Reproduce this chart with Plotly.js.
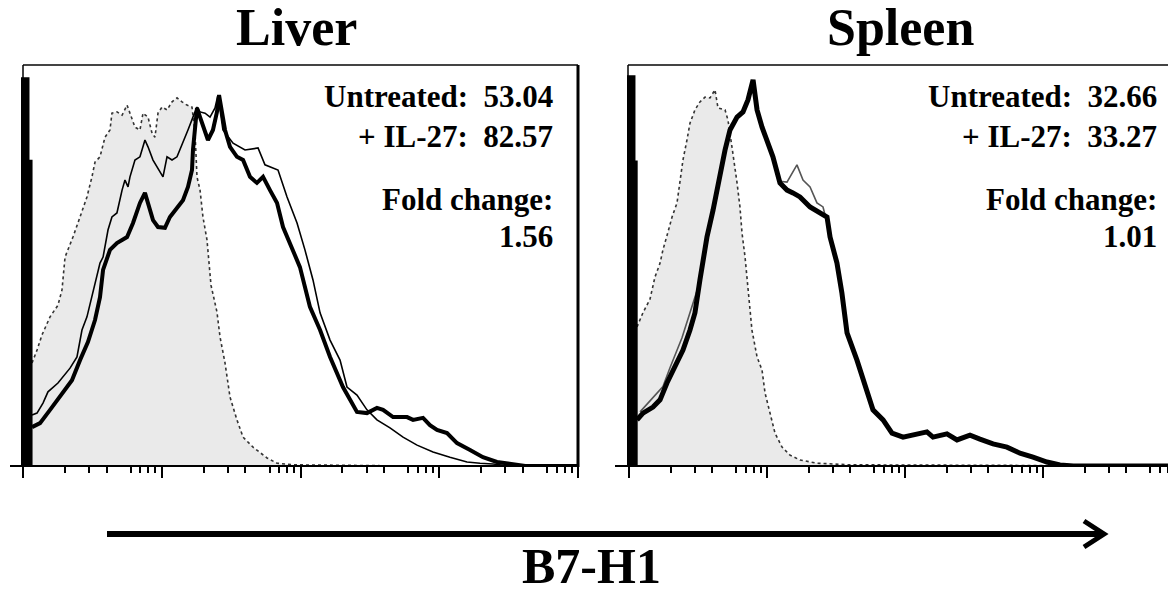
<!DOCTYPE html>
<html>
<head>
<meta charset="utf-8">
<script src="https://cdn.plot.ly/plotly-3.0.1.min.js"></script>
<style>html,body{margin:0;padding:0;background:#fff;}#chart{width:1168px;height:590px;}</style>
</head>
<body>
<div id="chart"></div>
<script>
// ---- DATA (x = log10 fluorescence, y = % of max) ----
const panelTitles = ["Liver", "Spleen"];
const axisLabel = "B7-H1";
const statsLiver = ["Untreated:\u00a0 53.04", "+ IL-27:\u00a0 82.57", "Fold change:", "1.56"];
const statsSpleen = ["Untreated:\u00a0 32.66", "+ IL-27:\u00a0 33.27", "Fold change:", "1.01"];

// first-channel pile-up (step outline)
const liverSpikeD = [-0.02, 0.036, 0.036, 0.058, 0.058];
const liverSpikeY = [96.6, 96.6, 76.0, 76.0, 0];
const spleenSpikeD = [-0.02, 0.036, 0.036, 0.052, 0.052];
const spleenSpikeY = [97.1, 97.1, 75.8, 75.8, 0];

// Liver isotype (gray filled, dotted)
const liverIsoD = [0.065,0.101,0.137,0.195,0.252,0.281,0.303,0.324,0.360,0.411,0.461,0.497,0.519,0.555,0.591,0.627,0.641,0.677,0.714,0.750,0.771,0.807,0.843,0.865,0.901,0.930,0.951,0.973,1.002,1.038,1.074,1.110,1.146,1.182,1.218,1.240,1.254,1.276,1.297,1.326,1.355,1.398,1.420,1.456,1.492,1.542,1.586,1.658,1.759,1.831,1.946,2.2,2.5,2.8,4.0];
const liverIsoY = [25.7,28.9,32.7,37.2,40.1,43.9,52.1,53.9,57.1,62.1,67.1,72.1,75.8,77.1,82.0,83.8,88.0,88.3,87.5,90.0,88.0,84.5,83.8,88.0,87.0,83.0,82.0,88.0,89.5,88.8,90.8,91.8,90.8,90.0,89.5,83.0,72.1,68.8,62.1,56.4,45.1,38.4,32.2,25.7,17.2,11.5,7.2,4.7,2.0,0.7,0.3,0.2,0.2,0,0];
// Liver untreated (thin)
const liverUntD = [0.065,0.101,0.144,0.180,0.252,0.339,0.389,0.425,0.461,0.497,0.519,0.555,0.577,0.613,0.641,0.677,0.714,0.735,0.757,0.771,0.807,0.843,0.879,0.901,0.937,0.987,1.009,1.038,1.074,1.110,1.153,1.189,1.225,1.254,1.276,1.312,1.348,1.384,1.405,1.441,1.514,1.600,1.694,1.744,1.838,1.903,1.975,2.032,2.090,2.141,2.213,2.285,2.335,2.407,2.479,2.551,2.645,2.739,2.840,2.955,3.077,3.200,3.294,3.387,3.51,4.0];
const liverUntY = [12.7,13.2,15.7,18.5,20.7,24.4,27.2,33.9,37.2,42.1,45.1,50.6,52.1,58.9,62.1,63.1,68.8,71.3,69.6,72.1,76.3,77.1,81.3,79.6,76.3,73.3,72.1,77.1,76.3,77.1,80.5,83.8,87.0,89.5,88.3,88.0,87.0,89.3,92.5,83.8,80.5,78.8,79.3,75.1,73.8,67.1,60.6,53.9,46.4,38.2,31.4,26.4,19.7,17.7,14.0,11.5,9.5,7.2,5.2,3.5,2.2,1.0,0.7,0.5,0,0];
// Liver + IL-27 (thick)
const liverIl27D = [0.065,0.123,0.195,0.267,0.353,0.411,0.468,0.519,0.555,0.577,0.627,0.677,0.750,0.793,0.843,0.879,0.901,0.937,0.973,1.023,1.059,1.110,1.153,1.189,1.218,1.225,1.240,1.254,1.276,1.312,1.333,1.369,1.398,1.413,1.434,1.456,1.492,1.542,1.586,1.636,1.686,1.730,1.780,1.831,1.874,1.946,1.996,2.068,2.141,2.213,2.306,2.407,2.479,2.551,2.595,2.667,2.768,2.811,2.883,2.933,2.984,3.056,3.128,3.222,3.315,3.416,3.510,3.62,4.0];
const liverIl27Y = [9.7,10.7,14.0,17.2,21.4,26.4,30.9,36.4,42.1,48.9,53.9,55.6,57.1,60.6,65.6,68.1,65.6,61.3,59.6,59.4,62.1,64.6,66.3,69.6,73.8,78.8,84.5,89.3,87.0,83.0,81.3,83.8,88.3,92.5,88.0,83.8,79.6,77.1,76.3,72.1,70.6,72.1,68.8,65.6,59.6,53.9,49.6,39.7,33.9,27.2,19.7,13.5,13.2,14.5,14.0,12.2,12.2,11.5,12.0,10.2,9.0,8.2,5.7,4.0,2.2,1.0,0.5,0,0];

// Spleen isotype
const spleenIsoD = [0.058,0.101,0.152,0.188,0.225,0.246,0.283,0.312,0.348,0.370,0.391,0.420,0.442,0.478,0.514,0.551,0.587,0.623,0.645,0.696,0.717,0.746,0.768,0.783,0.804,0.819,0.841,0.862,0.891,0.928,0.964,0.986,1.022,1.058,1.109,1.167,1.239,1.362,1.601,2.2,2.98,3.1,3.906];
const spleenIsoY = [34.7,38.2,41.6,47.1,50.6,53.9,58.4,62.1,65.6,70.6,76.3,81.3,85.5,88.8,90.8,92.0,91.8,93.8,89.3,88.8,86.3,79.6,74.6,70.6,64.6,58.1,52.1,44.4,33.9,27.2,23.9,18.2,13.2,8.2,4.7,2.7,1.5,0.7,0.3,0.2,0.2,0,0];
// Spleen untreated (thin, gray)
const spleenUntD = [0.080,0.174,0.246,0.297,0.384,0.514,0.565,0.609,0.645,0.696,0.732,0.783,0.826,0.862,0.899,0.928,0.964,1.000,1.043,1.094,1.145,1.217,1.261,1.312,1.362,1.406,1.457,1.507,1.543,1.580,1.652,1.725,1.768,1.841,1.906,1.986,2.058,2.159,2.203,2.304,2.377,2.471,2.543,2.638,2.739,2.833,2.928,3.029,3.123,3.22,3.906];
const spleenUntY = [13.5,17.0,19.8,24.5,32.0,46.0,57.0,63.6,70.4,78.6,83.6,86.9,88.3,90.8,95.5,88.5,84.4,81.3,77.4,71.0,70.8,75.1,71.3,69.6,65.6,64.6,58.0,51.0,43.5,33.6,26.7,19.3,14.3,11.8,8.5,7.4,7.9,8.6,7.4,8.1,6.6,7.9,6.9,5.6,4.7,3.4,2.4,1.1,0.4,0,0];
// Spleen + IL-27 (thick)
const spleenIl27D = [0.058,0.101,0.174,0.225,0.275,0.333,0.391,0.442,0.478,0.514,0.565,0.609,0.645,0.696,0.732,0.783,0.826,0.862,0.899,0.928,0.964,1.000,1.043,1.094,1.145,1.188,1.239,1.312,1.384,1.435,1.457,1.507,1.543,1.580,1.652,1.725,1.768,1.841,1.906,1.986,2.058,2.159,2.203,2.304,2.377,2.471,2.543,2.638,2.739,2.833,2.928,3.029,3.123,3.22,3.906];
const spleenIl27Y = [11.5,13.2,14.7,16.5,20.7,24.7,28.9,33.9,38.2,46.4,57.1,63.8,70.6,78.8,83.8,87.0,88.3,91.3,96.3,88.8,84.5,81.3,77.1,70.6,68.8,68.1,67.1,64.6,63.1,62.1,57.1,50.6,43.1,33.2,26.4,19.0,14.0,11.5,8.2,7.2,7.7,8.5,7.2,8.0,6.5,7.7,6.7,5.5,4.7,3.2,2.2,1.0,0.25,0,0];

const majorTicks = [1, 10, 100, 1000, 10000];
const minorTicks = [2,3,4,6,7,8,9,20,30,40,60,70,80,90,200,300,400,600,700,800,900,2000,3000,4000,6000,7000,8000,9000];
const midTicks = [5, 50, 500, 5000];

// ---- BUILD ----
const W = 1168, H = 590;
const toLin = a => a.map(v => Math.pow(10, v));
const SERIF = "Liberation Serif, 'Times New Roman', Times, serif";

function panel(xa, ya, spD, spY, isoD, isoY, untD, untY, ilD, ilY, untColor, untW, ilW) {
  return [
    {x: toLin(isoD), y: isoY, xaxis: xa, yaxis: ya, type: 'scatter', mode: 'lines',
     fill: 'tozeroy', fillcolor: 'rgb(234,234,234)',
     line: {color: '#333', width: 1.6, dash: 'dot'}, hoverinfo: 'skip'},
    {x: toLin(untD), y: untY, xaxis: xa, yaxis: ya, type: 'scatter', mode: 'lines',
     line: {color: untColor, width: untW}, hoverinfo: 'skip'},
    {x: toLin(ilD), y: ilY, xaxis: xa, yaxis: ya, type: 'scatter', mode: 'lines',
     line: {color: '#000', width: ilW}, hoverinfo: 'skip'},
    {x: toLin(spD), y: spY, xaxis: xa, yaxis: ya, type: 'scatter', mode: 'lines',
     fill: 'tozeroy', fillcolor: '#000', line: {color: '#000', width: 3}, hoverinfo: 'skip'}
  ];
}

const traces = [].concat(
  panel('x', 'y', liverSpikeD, liverSpikeY, liverIsoD, liverIsoY, liverUntD, liverUntY, liverIl27D, liverIl27Y, '#000', 1.6, 4),
  panel('x2', 'y2', spleenSpikeD, spleenSpikeY, spleenIsoD, spleenIsoY, spleenUntD, spleenUntY, spleenIl27D, spleenIl27Y, '#555', 1.6, 5)
);

const yDom = [1 - 466 / H, 1 - 65 / H];
function xAxis(dom, range, anchor) {
  return {domain: dom, type: 'log', range: range, anchor: anchor,
    showgrid: false, zeroline: false, showline: false, showticklabels: false,
    ticks: 'outside', tickmode: 'array', tickvals: majorTicks, ticklen: 11, tickwidth: 2, tickcolor: '#000',
    minor: {tickmode: 'array', tickvals: minorTicks, ticks: 'outside', ticklen: 6, tickwidth: 2, tickcolor: '#000', showgrid: false},
    fixedrange: true};
}
function midAxis(over, range, anchor) {
  return {overlaying: over, type: 'log', range: range, anchor: anchor,
    showgrid: false, zeroline: false, showline: false, showticklabels: false,
    ticks: 'outside', tickmode: 'array', tickvals: midTicks, ticklen: 9, tickwidth: 2, tickcolor: '#000'};
}
function yAxis(anchor) {
  return {domain: yDom, range: [0, 100], anchor: anchor, showgrid: false, zeroline: false,
    showline: false, showticklabels: false, ticks: '', fixedrange: true};
}
const rangeL = [-0.0144, 4];
const rangeR = [-0.0145, 3.906];
const px = v => v / W, py = v => 1 - v / H;

function seg(x0, y0, x1, y1, w, c) {
  return {type: 'line', xref: 'paper', yref: 'paper', x0: px(x0), y0: py(y0), x1: px(x1), y1: py(y1),
    line: {color: c || '#000', width: w}};
}
const shapes = [
  seg(23, 65, 578, 65, 2, '#444'),
  seg(23, 65, 23, 466, 1.5),
  seg(578, 65, 578, 467, 3),
  seg(10, 466, 579, 466, 1.8),
  seg(628, 65, 1168, 65, 2, '#444'),
  seg(628, 65, 628, 466, 1.5),
  seg(615, 466, 1168, 466, 1.8),
  seg(107, 534, 1100, 534, 6),
  {type: 'path', xref: 'paper', yref: 'paper',
   path: `M ${px(1084)} ${py(521)} L ${px(1104)} ${py(534)} L ${px(1084)} ${py(547)}`,
   line: {color: '#000', width: 5}}
];

function ann(text, x, y, size, xanchor) {
  return {text: '<b>' + text + '</b>', xref: 'paper', yref: 'paper', x: px(x), y: py(y),
    xanchor: xanchor, yanchor: 'middle', showarrow: false,
    font: {family: SERIF, size: size, color: '#000'}};
}
const statBase = [107, 147, 210, 247];
const annotations = [
  ann(panelTitles[0], 296, 27.5, 52, 'center'),
  ann(panelTitles[1], 901, 27.5, 52, 'center'),
  ann(axisLabel, 591, 566, 50, 'center')
];
statsLiver.forEach((t, i) => annotations.push(ann(t, 555, statBase[i] - 10.5, 31, 'right')));
statsSpleen.forEach((t, i) => annotations.push(ann(t, 1159, statBase[i] - 10.5, 31, 'right')));

const layout = {
  width: W, height: H, margin: {l: 0, r: 0, t: 0, b: 0},
  paper_bgcolor: '#fff', plot_bgcolor: 'rgba(0,0,0,0)', showlegend: false,
  xaxis: xAxis([21 / W, 578 / W], rangeL, 'y'),
  yaxis: yAxis('x'),
  xaxis2: xAxis([627 / W, 1], rangeR, 'y2'),
  yaxis2: yAxis('x2'),
  xaxis3: midAxis('x', rangeL, 'y'),
  xaxis4: midAxis('x2', rangeR, 'y2'),
  shapes: shapes,
  annotations: annotations
};

Plotly.newPlot('chart', traces, layout, {staticPlot: true, displayModeBar: false});
</script>
</body>
</html>
